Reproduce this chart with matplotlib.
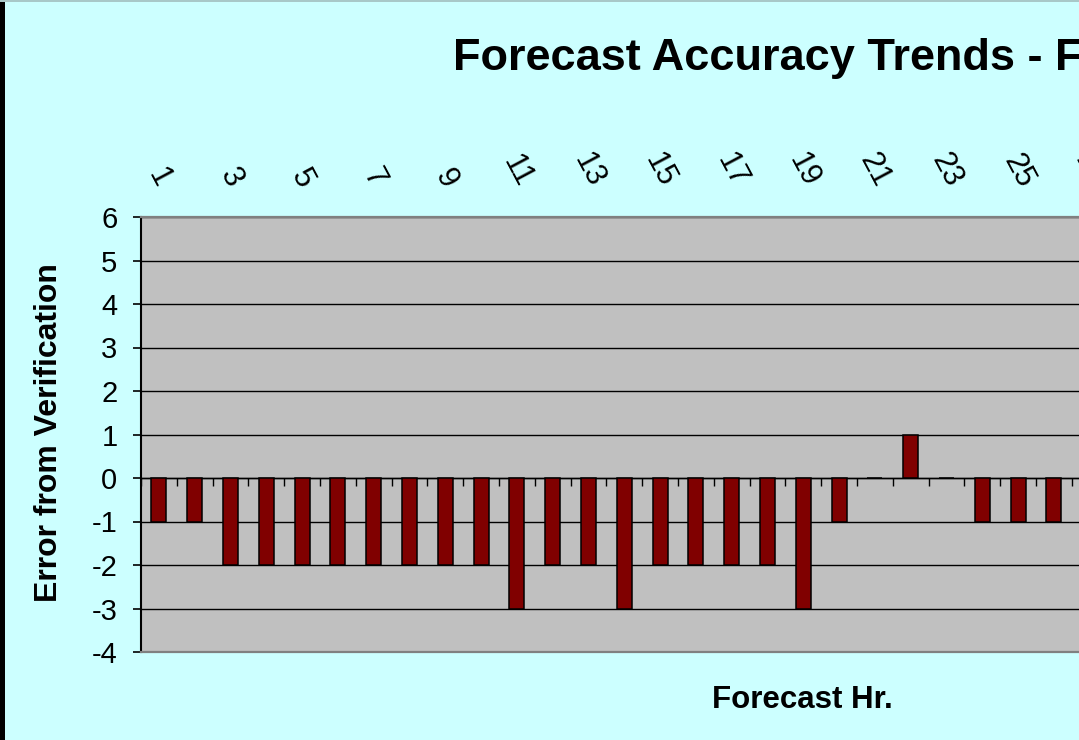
import numpy as np
import matplotlib
matplotlib.use("Agg")
import matplotlib.pyplot as plt
from matplotlib.patches import Rectangle

plt.rcParams['font.family'] = ['Liberation Sans', 'DejaVu Sans']
plt.rcParams['axes.unicode_minus'] = False

# Forecast hour vs. error (only the visible part of the chart)
hours = list(range(1, 27))
errors = [-1, -1, -2, -2, -2, -2, -2, -2, -2, -2,
          -3, -2, -2, -3, -2, -2, -2, -2, -3, -1,
          0, 1, 0, -1, -1, -1]
label_hours = list(range(1, 38, 2))
n_cats = 37

W, H = 1079, 740
fig = plt.figure(figsize=(W / 100, H / 100), dpi=100, facecolor='#CCFFFF')

# plot area runs off the right edge like the original screenshot
left, top, bottom = 141, 217, 652
cat_px = 35.8
ax = fig.add_axes([left / W, 1 - bottom / H, n_cats * cat_px / W, (bottom - top) / H])
ax.set_facecolor('#C0C0C0')

ax.bar(hours, errors, width=0.42, color='#800000', edgecolor='black',
       linewidth=1.1, zorder=3)

ax.set_xlim(0.5, n_cats + 0.5)
ax.set_ylim(-4, 6)
ax.set_yticks(range(-4, 7))
ax.yaxis.grid(True, color='black', linewidth=1.0, zorder=1)
ax.set_axisbelow(True)

# category labels on top, rotated; boundary ticks on the zero line
ax.set_xticks(label_hours)
ax.set_xticklabels([str(h) for h in label_hours])
ax.set_xticks(np.arange(0.5, n_cats + 1, 1), minor=True)
ax.tick_params(axis='x', which='major', bottom=False, top=False,
               labelbottom=False, labeltop=True, labelrotation=-62,
               labelsize=22, pad=14)
ax.tick_params(axis='x', which='minor', bottom=True, top=False,
               direction='out', length=5.5, width=1.0, color='black')
ax.tick_params(axis='y', which='major', left=True, direction='out',
               length=6, width=1.2, labelsize=21, pad=11)

ax.spines['bottom'].set_position(('data', 0))
ax.spines['bottom'].set_color('black')
ax.spines['bottom'].set_linewidth(1.0)
ax.spines['left'].set_color('black')
ax.spines['left'].set_linewidth(1.5)
ax.spines['top'].set_color('#808080')
ax.spines['top'].set_linewidth(1.6)
ax.spines['right'].set_visible(False)
ax.axhline(-4, color='#808080', linewidth=1.6, clip_on=False, zorder=4)

fig.text(453 / W, 1 - 70 / H, 'Forecast Accuracy Trends - F', fontsize=32.5,
         fontweight='bold', ha='left', va='baseline')
fig.text(802 / W, 1 - 708 / H, 'Forecast Hr.', fontsize=22.5,
         fontweight='bold', ha='center', va='baseline')
fig.text(49 / W, 1 - 433 / H, 'Error from Verification', fontsize=23,
         fontweight='bold', rotation=90, ha='center', va='center')

# dark frame strip on the left and thin top edge
fig.patches.append(Rectangle((0, 0), 5 / W, 1, transform=fig.transFigure,
                             facecolor='black', edgecolor='none'))
fig.patches.append(Rectangle((0, 1 - 1.5 / H), 1, 1.5 / H, transform=fig.transFigure,
                             facecolor='#A8C8C8', edgecolor='none'))

fig.savefig('out.png', dpi=100, facecolor=fig.get_facecolor())
